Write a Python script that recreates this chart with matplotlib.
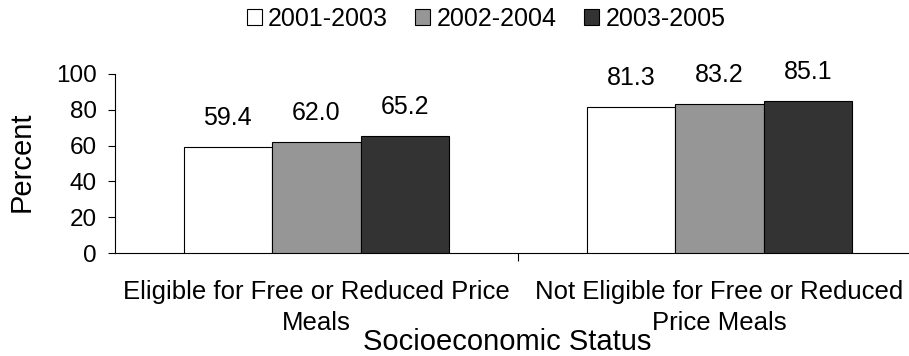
import numpy as np
import matplotlib
matplotlib.use("Agg")
import matplotlib.pyplot as plt
from matplotlib.patches import Patch

plt.rcParams.update({
    "font.family": ["Liberation Sans", "DejaVu Sans"],
    "font.size": 18,
})

categories = ["Eligible for Free or Reduced Price\nMeals",
              "Not Eligible for Free or Reduced\nPrice Meals"]
series = ["2001-2003", "2002-2004", "2003-2005"]
values = [
    [59.4, 81.3],
    [62.0, 83.2],
    [65.2, 85.1],
]
colors = ["#ffffff", "#969696", "#333333"]

fig = plt.figure(figsize=(9.09, 3.56), dpi=100)
ax = fig.add_axes([115 / 909, 1 - 253 / 356, 806 / 909, 179 / 356])

x = np.arange(len(categories))
w = 0.22
for i, (name, vals) in enumerate(zip(series, values)):
    pos = x + (i - 1) * w
    bars = ax.bar(pos, vals, w, color=colors[i], edgecolor="black", lw=0.8,
                  label=name, zorder=3)
    for b, v in zip(bars, vals):
        ax.annotate(f"{v:.1f}", (b.get_x() + b.get_width() / 2, v),
                    xytext=(0, 21), textcoords="offset points",
                    ha="center", va="center", fontsize=18)

ax.set_xlim(-0.5, 1.5)
ax.set_ylim(0, 100)
ax.set_yticks([0, 20, 40, 60, 80, 100])
ax.set_xticks([0.5])
ax.set_xticklabels([""])
ax.tick_params(axis="x", length=6, width=0.8, direction="out")
ax.tick_params(axis="y", length=5, width=0.8, direction="out", pad=8,
               labelsize=17.5)
for i, c in enumerate(categories):
    ax.text(x[i], -0.15, c, transform=ax.get_xaxis_transform(), ha="center",
            va="top", fontsize=18.5, linespacing=1.4)
for s in ["top", "right"]:
    ax.spines[s].set_visible(False)
ax.spines["left"].set_linewidth(0.8)
ax.spines["bottom"].set_linewidth(0.8)

fig.text(22 / 909, 1 - 162 / 356, "Percent", rotation=90, ha="center",
         va="center", fontsize=21)
fig.text(507 / 909, 1 - 350 / 356, "Socioeconomic Status", ha="center",
         va="baseline", fontsize=21)

handles = [Patch(fc=c, ec="black", lw=0.8) for c in colors]
fig.legend(handles, series, loc="center", bbox_to_anchor=(486 / 909, 1 - 19 / 356),
           ncol=3, frameon=False, fontsize=18, handlelength=0.6,
           handleheight=0.6, handletextpad=0.25, columnspacing=1.1)

fig.savefig("out.png", dpi=100)
